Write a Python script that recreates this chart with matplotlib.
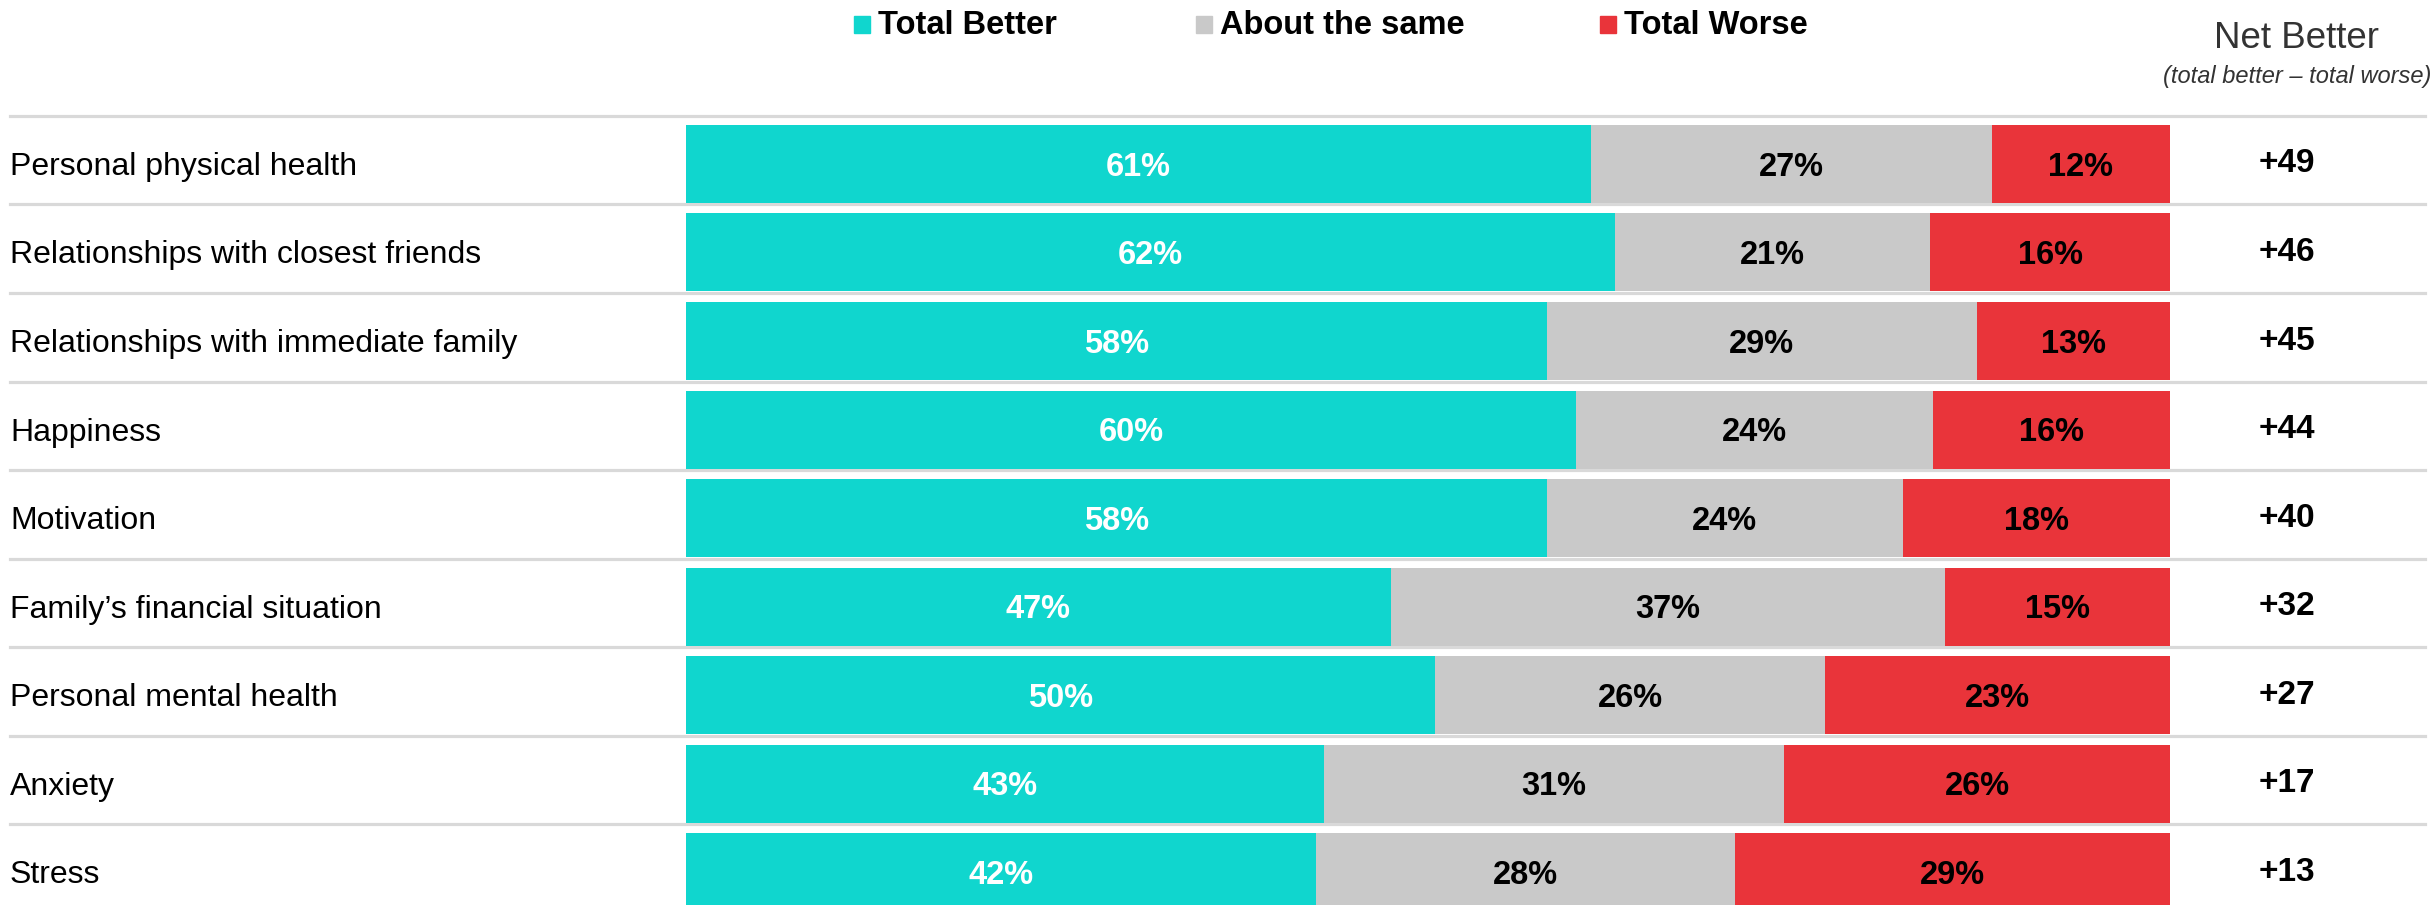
import matplotlib
matplotlib.use("Agg")
import matplotlib.pyplot as plt
from matplotlib.patches import Rectangle
from matplotlib.transforms import blended_transform_factory

# data
categories = ["Personal physical health", "Relationships with closest friends",
              "Relationships with immediate family", "Happiness", "Motivation",
              "Family\u2019s financial situation", "Personal mental health",
              "Anxiety", "Stress"]
better = [61, 62, 58, 60, 58, 47, 50, 43, 42]
same = [27, 21, 29, 24, 24, 37, 26, 31, 28]
worse = [12, 16, 13, 16, 18, 15, 23, 26, 29]
net = [49, 46, 45, 44, 40, 32, 27, 17, 13]
series_names = ["Total Better", "About the same", "Total Worse"]
colors = ["#10D6CE", "#C9C9C9", "#E9343A"]
text_colors = ["white", "black", "black"]

fonts = ["Liberation Sans", "DejaVu Sans"]

W, H = 2435, 905
fig = plt.figure(figsize=(W / 100, H / 100), dpi=100)

# axes in pixel placement: bars from x=686 to 2170, rows start below y=116
ax_left, ax_right = 686, 2170
ax_top = 116
ax = fig.add_axes([ax_left / W, 0, (ax_right - ax_left) / W, (H - ax_top) / H])
pitch = 88.5
top_y = -48 / pitch
bottom_y = top_y + (H - ax_top) / pitch
ax.set_ylim(bottom_y, top_y)
ax.set_xlim(0, 1)
ax.axis("off")

n = len(categories)
rows = list(range(n))
series = [better, same, worse]
totals = [b + s + w for b, s, w in zip(better, same, worse)]
dy = 3 / pitch  # text sits a little below bar centre

left = [0.0] * n
for vals, col, tcol in zip(series, colors, text_colors):
    widths = [v / t for v, t in zip(vals, totals)]
    ax.barh(rows, widths, left=left, height=78 / pitch, color=col, edgecolor="none")
    for i in rows:
        ax.text(left[i] + widths[i] / 2, i + dy, f"{vals[i]}%", ha="center", va="center",
                color=tcol, fontsize=23.5, fontweight="bold", family=fonts)
    left = [l + w for l, w in zip(left, widths)]

x_lab = (10 - ax_left) / (ax_right - ax_left)
x_net = (2287 - ax_left) / (ax_right - ax_left)
x_line0 = (10 - ax_left) / (ax_right - ax_left)
x_line1 = (2425 - ax_left) / (ax_right - ax_left)
tr = blended_transform_factory(ax.transAxes, ax.transData)
for i in rows:
    ax.axhline(i + top_y, xmin=x_line0, xmax=x_line1, color="#D9D9D9", lw=2.3,
               clip_on=False, zorder=0)
    ax.text(x_lab, i + dy, categories[i], transform=tr, ha="left", va="center",
            fontsize=23, family=fonts, color="black")
    ax.text(x_net, i, f"+{net[i]}", transform=tr, ha="center", va="center",
            fontsize=24, fontweight="bold", family=fonts, color="black")

# legend across the top
sq_x = [854, 1196, 1600]
for x0, name, col in zip(sq_x, series_names, colors):
    fig.patches.append(Rectangle((x0 / W, 1 - 33 / H), 16 / W, 17 / H,
                                 transform=fig.transFigure, color=col))
    fig.text((x0 + 24) / W, 1 - 25 / H, name, ha="left", va="center",
             fontsize=23.5, fontweight="bold", family=fonts, color="black")

fig.text(2297 / W, 1 - 38 / H, "Net Better", ha="center", va="center",
         fontsize=26.5, family=fonts, color="#333333")
fig.text(2297 / W, 1 - 77 / H, "(total better \u2013 total worse)", ha="center",
         va="center", fontsize=17, style="italic", family=fonts, color="#333333")

fig.savefig("out.png", dpi=100)
